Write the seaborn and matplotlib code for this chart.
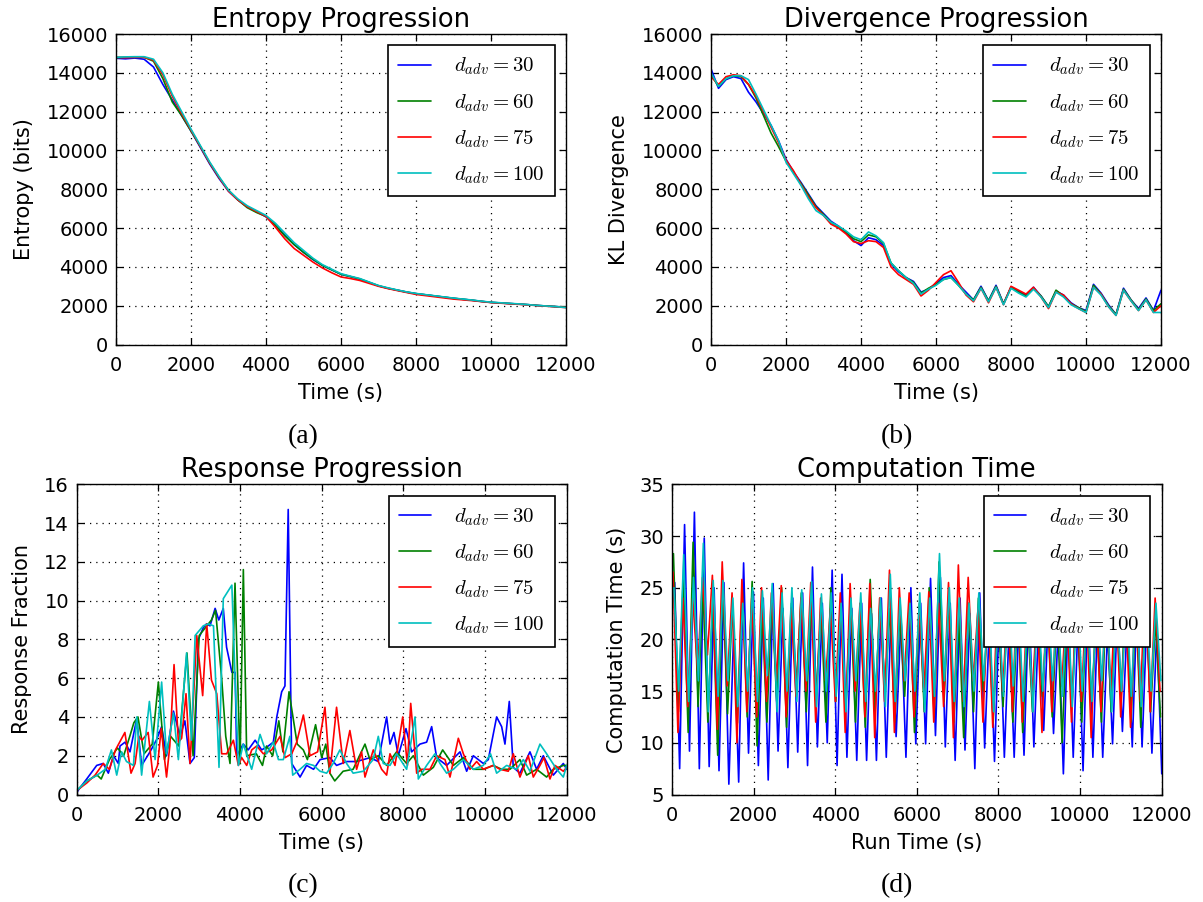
import numpy as np
import pandas as pd
import matplotlib
matplotlib.use("Agg")
import matplotlib.pyplot as plt
import seaborn as sns

# ---------------- data ----------------
LABELS = [r'$d_{adv} = 30$', r'$d_{adv} = 60$', r'$d_{adv} = 75$', r'$d_{adv} = 100$']
COLORS = ['#0000ff', '#008000', '#ff0000', '#00bfbf']

# (a) Entropy, sampled every 250 s
ent_time = np.arange(0, 12001, 250)
ent_blue = [14750, 14720, 14760, 14700, 14300, 13400, 12600, 11800, 11000, 10150,
            9300, 8550, 7900, 7450, 7100, 6850, 6580, 6150, 5650, 5150,
            4750, 4380, 4080, 3850, 3620, 3500, 3370, 3200, 3020, 2900,
            2800, 2700, 2620, 2560, 2500, 2440, 2380, 2330, 2280, 2220,
            2170, 2140, 2110, 2080, 2050, 2010, 1980, 1950, 1920]
ent_green = [14780, 14800, 14800, 14800, 14600, 13700, 12500, 11800, 11000, 10200,
             9350, 8600, 7950, 7450, 7050, 6800, 6600, 6150, 5600, 5150,
             4750, 4400, 4080, 3850, 3620, 3500, 3380, 3200, 3030, 2900,
             2800, 2700, 2620, 2560, 2500, 2440, 2380, 2330, 2280, 2220,
             2170, 2140, 2110, 2080, 2050, 2010, 1980, 1950, 1920]
ent_red = [14800, 14780, 14800, 14800, 14650, 13900, 12800, 11900, 11050, 10200,
           9350, 8600, 7900, 7450, 7100, 6850, 6600, 6050, 5450, 4950,
           4600, 4250, 3950, 3700, 3480, 3400, 3300, 3150, 3000, 2880,
           2780, 2680, 2580, 2520, 2460, 2400, 2340, 2300, 2260, 2210,
           2160, 2130, 2100, 2070, 2040, 2000, 1970, 1940, 1900]
ent_cyan = [14800, 14820, 14830, 14830, 14700, 14000, 12900, 12000, 11100, 10250,
            9400, 8650, 7950, 7500, 7150, 6900, 6650, 6250, 5750, 5250,
            4850, 4450, 4120, 3880, 3650, 3520, 3400, 3220, 3040, 2920,
            2810, 2710, 2630, 2570, 2510, 2450, 2390, 2340, 2290, 2230,
            2180, 2150, 2120, 2090, 2050, 2010, 1980, 1950, 1900]

# (b) KL divergence, sampled every 200 s
div_time = np.arange(0, 12001, 200)
div_blue = [14200, 13200, 13650, 13800, 13700, 13000, 12500, 11900, 11300, 10500,
            9550, 8900, 8350, 7750, 7150, 6750, 6350, 6100, 5750, 5350,
            5100, 5500, 5400, 5100, 4150, 3750, 3450, 3250, 2700, 2850,
            3150, 3450, 3550, 3100, 2700, 2300, 3000, 2250, 3050, 2100,
            2950, 2750, 2550, 2950, 2500, 1950, 2750, 2550, 2150, 1900,
            1750, 3100, 2650, 2050, 1550, 2900, 2300, 1850, 2400, 1750, 2800]
div_green = [13900, 13300, 13700, 13850, 13800, 13400, 12700, 11800, 10900, 10200,
             9450, 8850, 8300, 7700, 7100, 6700, 6300, 6050, 5800, 5450,
             5300, 5650, 5550, 5200, 4200, 3800, 3450, 3200, 2650, 2900,
             3100, 3350, 3450, 3050, 2600, 2300, 2950, 2250, 3000, 2100,
             2950, 2700, 2500, 2900, 2500, 1950, 2800, 2500, 2100, 1900,
             1700, 3050, 2600, 2000, 1550, 2850, 2300, 1800, 2350, 1750, 2100]
div_red = [13800, 13400, 13800, 13900, 13850, 13400, 12800, 12000, 11200, 10400,
           9500, 8950, 8250, 7600, 7050, 6650, 6200, 6000, 5700, 5300,
           5200, 5350, 5300, 5000, 4000, 3600, 3350, 3100, 2500, 2800,
           3200, 3600, 3800, 3200, 2550, 2200, 2900, 2150, 2950, 2050,
           3000, 2800, 2600, 2950, 2450, 1850, 2700, 2550, 2100, 1850,
           1650, 2950, 2600, 1950, 1500, 2800, 2250, 1750, 2300, 1650, 2000]
div_cyan = [14000, 13300, 13700, 13850, 13850, 13650, 12900, 12100, 11300, 10500,
            9400, 8800, 8200, 7500, 6900, 6650, 6300, 6100, 5850, 5550,
            5400, 5800, 5600, 5250, 4200, 3800, 3450, 3150, 2600, 2850,
            3050, 3350, 3450, 3050, 2600, 2250, 2900, 2200, 2950, 2050,
            2900, 2650, 2450, 2850, 2450, 1900, 2700, 2450, 2050, 1850,
            1650, 2950, 2550, 1950, 1500, 2800, 2250, 1750, 2300, 1650, 1650]

# (c) Response fraction, (time, value) pairs
resp_blue = [[0, 0.1], [65, 0.3], [245, 0.8], [490, 1.5], [650, 1.6], [775, 1.1], [900, 2.0],
             [1020, 1.6], [1060, 2.5], [1185, 2.7], [1305, 2.2], [1470, 3.9], [1590, 1.5],
             [1795, 2.2], [1950, 2.8], [2080, 3.5], [2200, 2.0], [2370, 4.3], [2530, 3.0],
             [2650, 3.8], [2775, 1.6], [2880, 1.9], [2980, 8.0], [3100, 8.6], [3180, 8.8],
             [3265, 8.7], [3390, 9.6], [3480, 9.0], [3590, 9.6], [3670, 7.6], [3800, 6.3],
             [3880, 6.3], [3920, 2.0], [4080, 2.6], [4200, 2.3], [4370, 2.8], [4530, 2.3],
             [4690, 2.5], [4815, 2.7], [4900, 4.0], [5020, 5.3], [5100, 5.6], [5180, 14.7],
             [5265, 1.6], [5470, 0.9], [5630, 1.5], [5800, 1.3], [5960, 1.8], [6200, 1.9],
             [6364, 1.5], [6610, 1.7], [6855, 1.7], [7182, 1.9], [7386, 1.7], [7590, 4.0],
             [7672, 2.6], [7770, 3.2], [7876, 2.0], [8064, 3.4], [8203, 2.2], [8407, 2.6],
             [8570, 2.7], [8693, 3.5], [8815, 1.9], [9060, 1.5], [9387, 2.2], [9550, 1.2],
             [9713, 2.0], [9958, 1.6], [10080, 1.8], [10284, 4.0], [10407, 3.5], [10488, 2.6],
             [10594, 4.8], [10692, 1.4], [10855, 1.1], [11100, 2.2], [11263, 1.3], [11427, 2.0],
             [11672, 1.0], [11917, 1.6], [12000, 1.3]]
resp_green = [[0, 0.2], [250, 0.7], [500, 1.0], [600, 0.8], [800, 1.8], [1000, 2.4], [1150, 2.0],
              [1300, 3.0], [1400, 3.7], [1500, 4.0], [1650, 2.1], [1850, 2.6], [2000, 5.8],
              [2150, 1.8], [2300, 3.0], [2500, 2.5], [2700, 7.3], [2850, 2.0], [3000, 8.2],
              [3150, 8.6], [3300, 9.0], [3400, 9.5], [3550, 6.0], [3650, 3.0], [3755, 1.6],
              [3877, 10.9], [4000, 1.6], [4081, 11.6], [4163, 2.0], [4400, 2.1], [4550, 1.5],
              [4650, 2.5], [4800, 2.0], [4950, 3.8], [5050, 2.2], [5200, 5.3], [5400, 2.6],
              [5550, 2.3], [5650, 1.8], [5850, 3.6], [6000, 1.9], [6100, 2.6], [6200, 1.1],
              [6320, 0.7], [6525, 1.2], [6770, 1.3], [7060, 2.6], [7180, 1.8], [7386, 2.0],
              [7590, 1.5], [7835, 2.2], [8080, 1.6], [8244, 2.0], [8489, 1.0], [8734, 1.4],
              [8963, 2.3], [9224, 1.5], [9469, 1.9], [9713, 1.3], [9958, 1.3], [10203, 1.5],
              [10407, 1.3], [10611, 1.3], [10855, 1.8], [11019, 1.0], [11263, 1.3],
              [11508, 0.9], [11672, 1.3], [11917, 1.5], [12000, 1.5]]
resp_red = [[0, 0.2], [250, 0.6], [450, 1.0], [650, 1.6], [800, 1.3], [950, 2.3], [1180, 3.2],
            [1330, 1.1], [1430, 1.6], [1520, 3.0], [1600, 2.8], [1750, 3.2], [1870, 0.9],
            [1980, 1.5], [2070, 3.4], [2200, 0.9], [2280, 2.5], [2384, 6.7], [2490, 2.7],
            [2570, 2.9], [2677, 5.2], [2775, 1.6], [2940, 8.2], [3085, 5.1], [3184, 8.8],
            [3300, 5.9], [3430, 5.2], [3551, 2.1], [3673, 2.1], [3837, 2.8], [3959, 1.5],
            [4041, 1.9], [4163, 1.5], [4286, 2.3], [4408, 2.5], [4571, 2.1], [4776, 2.3],
            [4980, 3.0], [5102, 1.9], [5265, 2.1], [5388, 2.7], [5551, 4.1], [5714, 2.0],
            [5900, 2.2], [6080, 4.5], [6200, 1.1], [6364, 4.5], [6527, 1.6], [6690, 3.3],
            [6855, 1.3], [6977, 2.2], [7060, 0.9], [7264, 2.3], [7468, 1.3], [7590, 1.0],
            [7672, 2.1], [7795, 1.5], [7984, 4.0], [8099, 1.5], [8180, 4.7], [8326, 1.1],
            [8448, 1.3], [8652, 1.3], [8815, 2.0], [9020, 1.8], [9142, 0.9], [9346, 2.9],
            [9469, 2.1], [9632, 1.3], [9795, 1.7], [9958, 1.3], [10203, 1.5], [10366, 1.3],
            [10570, 1.2], [10692, 2.1], [10855, 0.9], [11059, 2.0], [11182, 0.9],
            [11345, 1.5], [11443, 1.9], [11590, 0.8], [11713, 1.5], [11917, 1.2], [12000, 1.4]]
resp_cyan = [[0, 0.2], [250, 0.7], [500, 1.0], [700, 1.3], [850, 2.3], [980, 1.0], [1100, 2.2],
             [1220, 1.7], [1390, 1.5], [1470, 4.0], [1590, 1.0], [1780, 4.8], [1920, 1.8],
             [2080, 5.8], [2200, 2.1], [2370, 4.2], [2490, 1.8], [2690, 7.3], [2810, 2.8],
             [2900, 8.2], [3100, 8.7], [3220, 8.8], [3350, 8.7], [3485, 1.4], [3590, 10.1],
             [3800, 10.8], [3880, 5.9], [3960, 1.5], [4080, 2.6], [4285, 1.3], [4490, 3.1],
             [4650, 2.1], [4815, 2.7], [4940, 1.8], [5060, 1.8], [5220, 3.0], [5290, 1.0],
             [5470, 1.3], [5630, 1.6], [5800, 1.5], [5960, 1.2], [6120, 1.1], [6280, 1.6],
             [6445, 2.3], [6610, 1.6], [6770, 1.1], [7020, 1.2], [7260, 1.8], [7386, 3.0],
             [7508, 1.6], [7672, 1.5], [7835, 2.1], [8080, 1.3], [8285, 4.0], [8366, 0.8],
             [8570, 1.5], [8774, 2.1], [8897, 1.6], [9060, 1.1], [9224, 1.3], [9469, 1.8],
             [9713, 1.3], [9958, 1.5], [10135, 2.1], [10284, 1.1], [10530, 1.5], [10774, 1.3],
             [10937, 1.8], [11100, 1.2], [11345, 2.6], [11508, 2.1], [11754, 1.3],
             [11917, 0.9], [12000, 1.5]]

# (d) Computation time: alternating peaks / troughs of each run
comp_step = 120.6
comp_start = [67, 35, 25, 45]
comp_blue_peaks = [25.5, 31.1, 32.3, 29.8, 25.0, 25.5, 21.0, 27.4, 24.6, 24.0,
                   25.4, 23.0, 24.0, 24.5, 27.0, 23.5, 26.7, 26.3, 23.0, 23.5,
                   22.5, 24.0, 23.0, 22.0, 25.0, 23.5, 25.9, 26.0, 23.5, 24.0,
                   22.5, 24.5, 22.0, 23.0, 21.5, 22.5, 24.0, 22.0, 23.0, 21.5,
                   23.0, 22.0, 24.0, 22.5, 21.0, 23.0, 22.0, 24.0, 22.5, 21.0]
comp_blue_troughs = [7.5, 9.2, 7.5, 7.7, 7.3, 6.0, 6.2, 9.0, 7.8, 6.4,
                     9.2, 7.6, 9.1, 7.8, 9.6, 10.0, 7.8, 8.6, 8.3, 8.3,
                     8.3, 8.6, 10.6, 8.6, 9.9, 9.9, 10.7, 9.6, 8.3, 9.3,
                     7.5, 9.5, 8.2, 8.6, 8.6, 8.8, 9.6, 11.2, 10.9, 7.0,
                     8.6, 7.3, 8.6, 8.6, 9.9, 11.1, 9.6, 9.6, 9.0, 7.0]
comp_green_peaks = [28.3, 26.0, 29.4, 25.0, 24.0, 25.5, 23.5, 25.0, 25.6, 23.0,
                    24.0, 25.0, 23.5, 24.5, 24.0, 23.0, 25.0, 23.5, 24.0, 23.0,
                    25.8, 24.0, 23.0, 22.5, 24.0, 23.5, 25.0, 27.5, 24.0, 22.0,
                    23.5, 24.0, 23.0, 22.5, 24.0, 23.5, 22.0, 24.0, 23.0, 23.5,
                    22.0, 24.0, 23.0, 22.5, 24.0, 23.0, 25.0, 23.5, 24.0, 22.0]
comp_green_troughs = [13.0, 11.0, 13.5, 12.0, 8.8, 12.8, 11.9, 12.5, 9.7, 12.0,
                      14.0, 11.5, 15.5, 13.0, 14.5, 12.0, 14.0, 13.0, 12.0, 11.5,
                      13.0, 15.0, 12.0, 14.5, 11.0, 13.0, 12.5, 14.0, 12.0, 10.5,
                      13.0, 15.0, 12.0, 13.5, 12.0, 11.0, 13.0, 14.5, 12.5, 10.0,
                      13.5, 12.0, 14.0, 12.0, 13.0, 14.5, 12.0, 11.5, 13.0, 12.5]
comp_red_peaks = [26.5, 24.0, 24.0, 26.0, 26.2, 27.5, 24.5, 25.8, 24.0, 25.0,
                  24.5, 25.2, 23.0, 24.0, 25.5, 24.0, 23.0, 24.5, 25.4, 23.5,
                  25.4, 24.0, 26.7, 25.0, 24.5, 23.0, 24.6, 23.5, 25.5, 27.2,
                  26.0, 23.0, 24.0, 25.0, 23.5, 26.0, 24.0, 23.0, 25.5, 24.0,
                  23.5, 25.0, 24.0, 23.0, 24.5, 25.0, 23.5, 24.0, 26.2, 24.0]
comp_red_troughs = [11.0, 13.5, 17.0, 18.5, 11.3, 15.5, 10.0, 13.0, 12.5, 14.0,
                    16.0, 12.5, 14.5, 15.0, 12.0, 16.0, 14.0, 11.0, 15.0, 12.5,
                    10.5, 14.0, 11.0, 16.0, 12.5, 15.0, 12.0, 13.5, 10.5, 14.0,
                    16.0, 12.0, 11.5, 15.0, 13.0, 12.0, 14.5, 11.0, 13.0, 15.5,
                    12.0, 14.0, 10.5, 13.0, 15.0, 12.5, 11.5, 14.0, 13.0, 15.0]
comp_cyan_peaks = [25.0, 28.2, 26.0, 29.3, 25.7, 25.7, 24.0, 23.5, 25.0, 24.7,
                   25.4, 24.5, 25.0, 24.8, 25.6, 24.4, 24.5, 23.5, 24.0, 24.5,
                   23.0, 24.0, 26.3, 24.0, 23.5, 24.5, 24.0, 28.3, 25.0, 24.0,
                   23.5, 24.5, 24.0, 23.5, 25.0, 24.0, 23.0, 24.5, 24.0, 23.5,
                   24.5, 25.0, 23.0, 24.0, 24.5, 23.5, 24.0, 25.0, 24.0, 23.5]
comp_cyan_troughs = [15.0, 14.0, 16.0, 13.0, 14.5, 16.0, 13.5, 15.0, 14.0, 16.5,
                     13.0, 15.0, 14.0, 16.0, 13.5, 15.0, 14.5, 13.0, 16.0, 14.0,
                     15.0, 13.5, 14.0, 16.0, 15.0, 13.0, 14.5, 16.0, 14.0, 13.5,
                     15.0, 16.0, 13.0, 14.5, 15.5, 14.0, 13.0, 15.0, 16.0, 14.5,
                     13.5, 15.0, 14.0, 16.0, 13.0, 15.0, 14.5, 13.5, 15.0, 16.0]

# ---------------- style ----------------
sns.set_style("white")
plt.rcParams.update({
    'font.family': ['DejaVu Sans'],
    'mathtext.fontset': 'cm',
    'axes.edgecolor': 'black',
    'axes.linewidth': 1.0,
    'xtick.direction': 'in', 'ytick.direction': 'in',
    'xtick.top': True, 'ytick.right': True,
    'xtick.bottom': True, 'ytick.left': True,
    'xtick.major.size': 5, 'ytick.major.size': 5,
    'xtick.major.width': 0.9, 'ytick.major.width': 0.9,
    'xtick.major.pad': 8, 'ytick.major.pad': 5.5,
    'xtick.color': 'black', 'ytick.color': 'black',
    'text.color': 'black', 'axes.labelcolor': 'black',
    'xtick.labelsize': 14, 'ytick.labelsize': 14,
})

fig = plt.figure(figsize=(12.03, 9.02), dpi=100)
W, H = 1203.0, 902.0


def add_ax(l, t, r, b):
    return fig.add_axes([l / W, 1 - b / H, (r - l) / W, (b - t) / H])


ax_a = add_ax(116, 34, 566, 344.5)
ax_b = add_ax(711, 34, 1161, 344.5)
ax_c = add_ax(76.7, 484.3, 566.7, 794.5)
ax_d = add_ax(672, 484.3, 1161.5, 794.5)


def long_frame(xs, ys):
    parts = []
    for lab, x, y in zip(LABELS, xs, ys):
        parts.append(pd.DataFrame({'t': np.asarray(x, float), 'v': np.asarray(y, float), 'series': lab}))
    return pd.concat(parts, ignore_index=True)


def draw(ax, df, title, xlabel, ylabel, ylim, yticks):
    sns.lineplot(data=df, x='t', y='v', hue='series', hue_order=LABELS,
                 palette=dict(zip(LABELS, COLORS)), estimator=None, sort=False,
                 linewidth=1.2, ax=ax, legend=False)
    ax.set_xlim(0, 12000)
    ax.set_xticks(np.arange(0, 12001, 2000))
    ax.set_ylim(*ylim)
    ax.set_yticks(yticks)
    ax.grid(True, color='black', linestyle=(0, (1, 4)), linewidth=0.9)
    ax.set_axisbelow(True)
    ax.set_title(title, fontsize=18.5, pad=5)
    ax.set_xlabel(xlabel, fontsize=15, labelpad=6)
    ax.set_ylabel(ylabel, fontsize=15, labelpad=9)
    for s in ax.spines.values():
        s.set_visible(True)
        s.set_color('black')
        s.set_linewidth(1.0)
    leg = ax.legend(ax.lines[:4], LABELS, loc='upper right', fontsize=15,
                    frameon=True, fancybox=False, framealpha=1, edgecolor='black',
                    borderpad=0.5, labelspacing=0.7, handlelength=1.55,
                    handletextpad=1.1, borderaxespad=0.55)
    leg.get_frame().set_linewidth(1.2)


ent_df = long_frame([ent_time] * 4, [ent_blue, ent_green, ent_red, ent_cyan])
draw(ax_a, ent_df, 'Entropy Progression', 'Time (s)', 'Entropy (bits)',
     (0, 16000), np.arange(0, 16001, 2000))

div_df = long_frame([div_time] * 4, [div_blue, div_green, div_red, div_cyan])
draw(ax_b, div_df, 'Divergence Progression', 'Time (s)', 'KL Divergence',
     (0, 16000), np.arange(0, 16001, 2000))

resp_sets = [resp_blue, resp_green, resp_red, resp_cyan]
resp_df = long_frame([[p[0] for p in s] for s in resp_sets], [[p[1] for p in s] for s in resp_sets])
draw(ax_c, resp_df, 'Response Progression', 'Time (s)', 'Response Fraction',
     (0, 16), np.arange(0, 17, 2))

comp_pairs = [(comp_blue_peaks, comp_blue_troughs), (comp_green_peaks, comp_green_troughs),
              (comp_red_peaks, comp_red_troughs), (comp_cyan_peaks, comp_cyan_troughs)]
comp_vals = [np.column_stack([p, t]).ravel() for p, t in comp_pairs]
comp_times = [s + comp_step * np.arange(len(v)) for s, v in zip(comp_start, comp_vals)]
comp_df = long_frame(comp_times, comp_vals)
draw(ax_d, comp_df, 'Computation Time', 'Run Time (s)', 'Computation Time (s)',
     (5, 35), np.arange(5, 36, 5))

for txt, x, y in [('(a)', 303, 437), ('(b)', 897, 437), ('(c)', 303, 886), ('(d)', 897, 886)]:
    fig.text(x / W, 1 - y / H, txt, ha='center', va='center', fontsize=20,
             family=['Liberation Serif', 'DejaVu Serif'])

fig.savefig('out.png', dpi=100)
